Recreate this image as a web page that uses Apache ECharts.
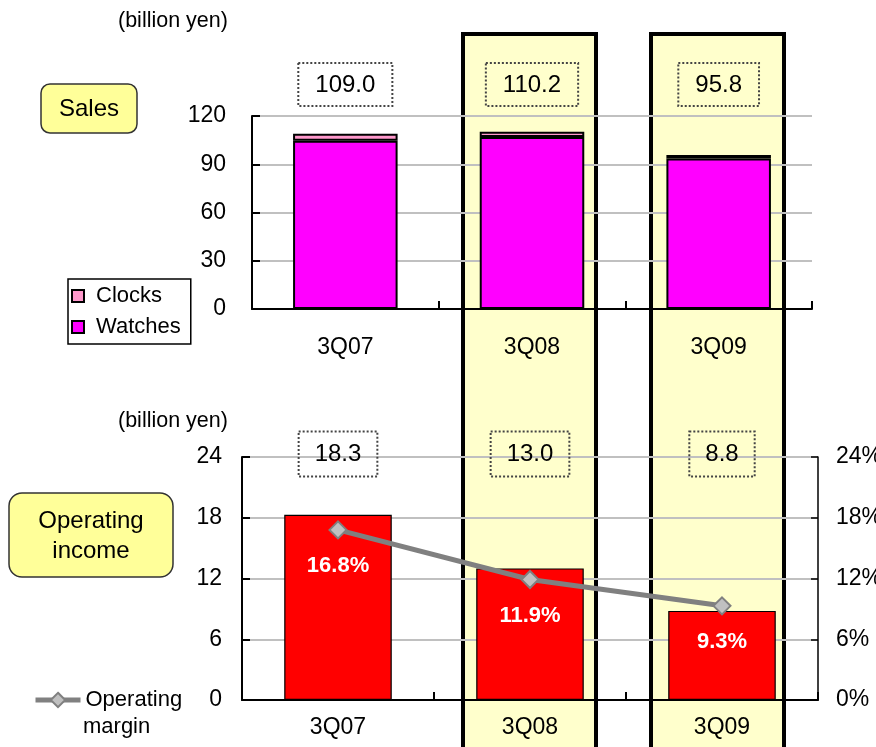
<!DOCTYPE html>
<html><head><meta charset="utf-8">
<script src="https://cdn.jsdelivr.net/npm/echarts@6/dist/echarts.min.js"></script>
<style>html,body{margin:0;padding:0;background:#fff}#c{width:876px;height:747px}</style>
</head><body><div id="c"></div>
<script>
const categories = ['3Q07', '3Q08', '3Q09'];
const watches = [104.6, 106.9, 93.5];
const clocks = [4.4, 3.3, 2.3];
const salesTotals = [109.0, 110.2, 95.8];
const opIncome = [18.3, 13.0, 8.8];
const opMargin = [16.8, 11.9, 9.3];
const salesTicks = {min: 0, max: 120, interval: 30};
const incomeTicks = {min: 0, max: 24, interval: 6};
const marginTicks = {min: 0, max: 24, interval: 6};

const FONT = 'Liberation Sans, Arial, sans-serif';
const chart = echarts.init(document.getElementById('c'), null, {renderer: 'canvas'});

const boxLabel = (fs) => ({
  show: true, color: '#000', fontSize: fs, fontFamily: FONT,
  borderColor: '#444', borderWidth: 1, borderType: 'dotted',
  backgroundColor: 'transparent', opacity: 1
});

const axisLineBlack = {show: true, lineStyle: {color: '#000', width: 2}};

const option = {
  animation: false,
  backgroundColor: '#fff',
  textStyle: {fontFamily: FONT},
  grid: [
    {left: 252, right: 64, top: 116, bottom: 438, outerBoundsMode: 'none', containLabel: false},
    {left: 242, right: 58, top: 457, bottom: 47, outerBoundsMode: 'none', containLabel: false}
  ],
  xAxis: [
    {type: 'category', gridIndex: 0, data: categories,
     axisLine: axisLineBlack,
     axisTick: {show: true, inside: true, length: 8, lineStyle: {color: '#000', width: 2}},
     axisLabel: {color: '#000', fontSize: 23, fontFamily: FONT, margin: 27}},
    {type: 'category', gridIndex: 1, data: categories,
     axisLine: axisLineBlack,
     axisTick: {show: true, inside: true, length: 8, lineStyle: {color: '#000', width: 2}},
     axisLabel: {color: '#000', fontSize: 23, fontFamily: FONT, margin: 16}}
  ],
  yAxis: [
    {type: 'value', gridIndex: 0, min: salesTicks.min, max: salesTicks.max, interval: salesTicks.interval,
     axisLine: axisLineBlack,
     axisTick: {show: true, inside: true, length: 8, lineStyle: {color: '#000', width: 2}},
     axisLabel: {color: '#000', fontSize: 23, fontFamily: FONT, margin: 26},
     splitLine: {show: true, lineStyle: {color: '#c0c0c0', width: 2}}},
    {type: 'value', gridIndex: 1, min: incomeTicks.min, max: incomeTicks.max, interval: incomeTicks.interval,
     axisLine: axisLineBlack,
     axisTick: {show: true, inside: true, length: 8, lineStyle: {color: '#000', width: 2}},
     axisLabel: {color: '#000', fontSize: 23, fontFamily: FONT, margin: 20},
     splitLine: {show: true, lineStyle: {color: '#c0c0c0', width: 2}}},
    {type: 'value', gridIndex: 1, position: 'right', min: marginTicks.min, max: marginTicks.max, interval: marginTicks.interval,
     axisLine: {show: true, lineStyle: {color: '#000', width: 1.5}},
     axisTick: {show: true, inside: true, length: 7, lineStyle: {color: '#000', width: 1.5}},
     axisLabel: {color: '#000', fontSize: 23, fontFamily: FONT, margin: 18, formatter: '{value}%'},
     splitLine: {show: false}}
  ],
  legend: [
    {data: ['Clocks', 'Watches'], orient: 'vertical', left: 68, top: 279,
     padding: [6, 10, 6, 3], itemGap: 9, itemWidth: 12, itemHeight: 12,
     borderColor: '#000', borderWidth: 1.5, backgroundColor: '#fff',
     icon: 'rect',
     textStyle: {color: '#000', fontSize: 22, fontFamily: FONT, padding: [0, 0, 0, 7]}},
    {data: ['Operating margin'], left: 33, top: 689, padding: 0,
     itemWidth: 45, itemHeight: 18,
     lineStyle: {width: 5, color: '#808080'},
     formatter: () => 'Operating',
     textStyle: {color: '#000', fontSize: 22, fontFamily: FONT}}
  ],
  series: [
    {name: 'Watches', type: 'bar', stack: 'sales', xAxisIndex: 0, yAxisIndex: 0,
     data: watches, barWidth: '56%',
     itemStyle: {color: '#ff00ff', borderColor: '#000', borderWidth: 2}},
    {name: 'Clocks', type: 'bar', stack: 'sales', xAxisIndex: 0, yAxisIndex: 0,
     data: clocks, barWidth: '56%',
     itemStyle: {color: '#ff99cc', borderColor: '#000', borderWidth: 2}},
    {name: 'Sales total', type: 'scatter', xAxisIndex: 0, yAxisIndex: 0,
     symbolSize: 0, silent: true, itemStyle: {opacity: 1},
     data: salesTotals.map((v, i) => [i, salesTicks.max]),
     label: Object.assign(boxLabel(24), {position: 'top', distance: 10, padding: [10, 17, 9, 17],
       formatter: p => salesTotals[p.dataIndex].toFixed(1)})},
    {name: 'Operating income', type: 'bar', xAxisIndex: 1, yAxisIndex: 1,
     data: opIncome, barWidth: '56%',
     itemStyle: {color: '#ff0000', borderColor: '#000', borderWidth: 1.2}},
    {name: 'Income total', type: 'scatter', xAxisIndex: 1, yAxisIndex: 1,
     symbolSize: 0, silent: true, itemStyle: {opacity: 1},
     data: opIncome.map((v, i) => [i, incomeTicks.max]),
     label: Object.assign(boxLabel(24), {position: 'inside', offset: [0, -3], padding: [11, 16, 10, 16],
       formatter: p => opIncome[p.dataIndex].toFixed(1)})},
    {name: 'Operating margin', type: 'line', xAxisIndex: 1, yAxisIndex: 2,
     data: opMargin, symbol: 'diamond', symbolSize: 17, z: 5,
     lineStyle: {color: '#808080', width: 5},
     itemStyle: {color: '#c0c0c0', borderColor: '#808080', borderWidth: 2},
     label: {show: true, position: 'bottom', distance: 16, color: '#fff', fontWeight: 'bold',
       fontSize: 22, fontFamily: FONT, formatter: p => opMargin[p.dataIndex].toFixed(1) + '%'}}
  ],
  graphic: [
    {type: 'rect', z: -10, shape: {x: 463, y: 34, width: 133, height: 740},
     style: {fill: '#ffffcc', stroke: '#000', lineWidth: 4}},
    {type: 'rect', z: -10, shape: {x: 651, y: 34, width: 133, height: 740},
     style: {fill: '#ffffcc', stroke: '#000', lineWidth: 4}},
    {type: 'rect', shape: {x: 41, y: 84, width: 96, height: 49, r: 9},
     style: {fill: '#ffff99', stroke: '#333', lineWidth: 1.5}},
    {type: 'text', x: 89, y: 109, style: {text: 'Sales', fill: '#000', font: '24px ' + FONT, align: 'center', verticalAlign: 'middle'}},
    {type: 'rect', shape: {x: 9, y: 493, width: 164, height: 84, r: 13},
     style: {fill: '#ffff99', stroke: '#333', lineWidth: 1.5}},
    {type: 'text', x: 91, y: 536, style: {text: 'Operating\nincome', fill: '#000', font: '24px ' + FONT, align: 'center', verticalAlign: 'middle', lineHeight: 30}},
    {type: 'text', x: 118, y: 21, style: {text: '(billion yen)', fill: '#000', font: '21.5px ' + FONT, align: 'left', verticalAlign: 'middle'}},
    {type: 'text', x: 118, y: 421, style: {text: '(billion yen)', fill: '#000', font: '21.5px ' + FONT, align: 'left', verticalAlign: 'middle'}},
    {type: 'text', x: 83, y: 727, style: {text: 'margin', fill: '#000', font: '22px ' + FONT, align: 'left', verticalAlign: 'middle'}}
  ]
};
chart.setOption(option);
</script></body></html>
